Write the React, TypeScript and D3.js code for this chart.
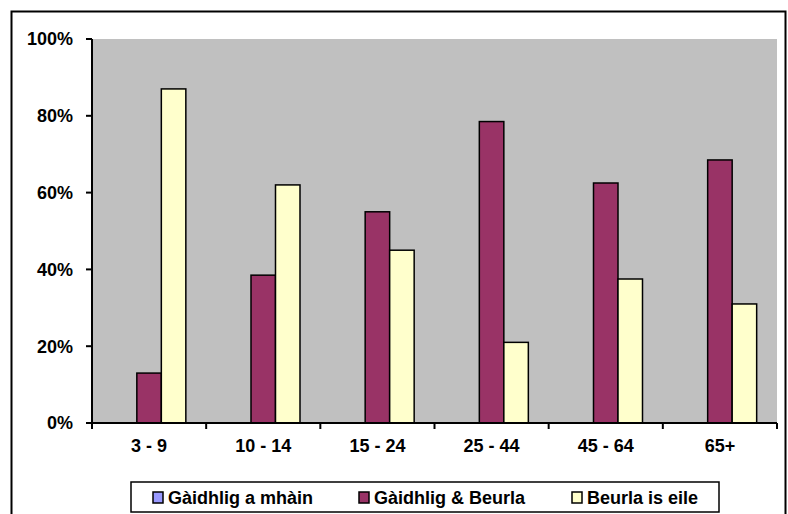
import React from "react";
import * as d3 from "d3";

const categories = ["3 - 9", "10 - 14", "15 - 24", "25 - 44", "45 - 64", "65+"];
const seriesNames = ["Gàidhlig a mhàin", "Gàidhlig & Beurla", "Beurla is eile"];
const colors = ["#9999ff", "#993366", "#ffffcc"];
const gaelicOnly = [0, 0, 0, 0, 0, 0];
const gaelicEnglish = [13, 38.5, 55, 78.5, 62.5, 68.5];
const englishOther = [87, 62, 45, 21, 37.5, 31];
const yTicks = [0, 20, 40, 60, 80, 100];

const series = [gaelicOnly, gaelicEnglish, englishOther];

const App: React.FC = () => {
  const left = 92, right = 777, top = 39, bottom = 423;
  const x = d3.scaleBand().domain(categories).range([left, right]);
  const inner = d3
    .scaleBand()
    .domain(seriesNames)
    .range([0, x.bandwidth()])
    .paddingInner(0)
    .paddingOuter(0.83);
  const y = d3.scaleLinear().domain([0, 100]).range([bottom, top]);
  const font = "Arial, 'Liberation Sans', sans-serif";

  const legendX = [153, 359, 572];

  return (
    <svg
      width={788}
      height={514}
      style={{ position: "absolute", left: 0, top: 0 }}
      fontFamily={font}
    >
      <rect x={0} y={0} width={788} height={514} fill="#fff" />
      <rect x={11.5} y={11.5} width={774} height={520} fill="none" stroke="#000" strokeWidth={2} />
      <rect x={left} y={top} width={right - left} height={bottom - top} fill="#c0c0c0" />
      {series.map((vals, si) =>
        categories.map((c, ci) => (
          <rect
            key={`${si}-${ci}`}
            x={x(c)! + inner(seriesNames[si])!}
            y={y(vals[ci])}
            width={inner.bandwidth()}
            height={bottom - y(vals[ci])}
            fill={colors[si]}
            stroke="#000"
            strokeWidth={1.5}
          />
        ))
      )}
      {/* axes */}
      <line x1={left} x2={left} y1={top} y2={bottom} stroke="#000" strokeWidth={2} />
      <line x1={left - 6} x2={right} y1={bottom} y2={bottom} stroke="#000" strokeWidth={2} />
      {yTicks.map((t) => (
        <g key={t}>
          <line x1={left - 6} x2={left} y1={y(t)} y2={y(t)} stroke="#000" strokeWidth={2} />
          <text x={73} y={y(t)} dy="0.35em" textAnchor="end" fontSize={18} fontWeight="bold">
            {t}%
          </text>
        </g>
      ))}
      {[...categories.map((c) => x(c)!), right].map((v, i) => (
        <line key={i} x1={v} x2={v} y1={bottom} y2={bottom + 6} stroke="#000" strokeWidth={2} />
      ))}
      {categories.map((c) => (
        <text
          key={c}
          x={x(c)! + x.bandwidth() / 2}
          y={bottom + 29}
          textAnchor="middle"
          fontSize={18}
          fontWeight="bold"
        >
          {c}
        </text>
      ))}
      {/* legend */}
      <rect x={131} y={482} width={588} height={30} fill="#fff" stroke="#000" strokeWidth={1.5} />
      {seriesNames.map((n, i) => (
        <g key={n}>
          <rect
            x={legendX[i]}
            y={492}
            width={10}
            height={11}
            fill={colors[i]}
            stroke="#000"
            strokeWidth={1.5}
          />
          <text x={legendX[i] + 15} y={497.5} dy="0.35em" fontSize={18} fontWeight="bold">
            {n}
          </text>
        </g>
      ))}
    </svg>
  );
};

export default App;
